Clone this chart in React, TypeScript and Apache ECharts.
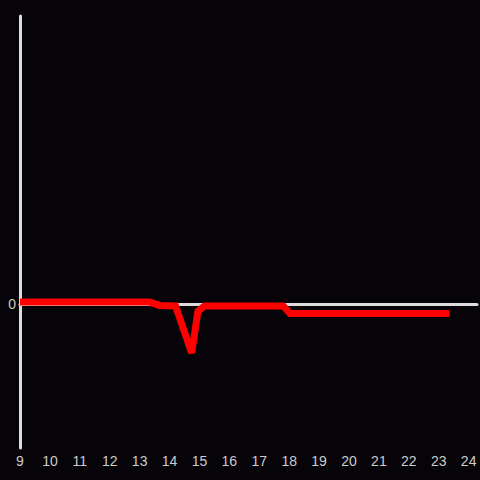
import React, { useEffect, useRef } from "react";
import * as echarts from "echarts";

const hours = [9, 13.33, 13.67, 14.2, 14.74, 14.95, 15.17, 17.8, 18.03, 23.36];
const values = [0.04, 0.04, -0.03, -0.04, -1.02, -0.15, -0.04, -0.04, -0.2, -0.2];
const xTicks = [9, 10, 11, 12, 13, 14, 15, 16, 17, 18, 19, 20, 21, 22, 23, 24];

export default function App() {
  const ref = useRef<HTMLDivElement>(null);
  useEffect(() => {
    if (!ref.current) return;
    const chart = echarts.init(ref.current, null, { renderer: "svg" });
    const data = hours.map((h, i) => [h, values[i]]);
    chart.setOption({
      animation: false,
      backgroundColor: "#060408",
      grid: { left: 20, right: 0, top: 16, bottom: 32, containLabel: false },
      xAxis: [
        {
          type: "value",
          min: 9,
          max: 24.28,
          interval: 1,
          axisLine: { show: false, onZero: false },
          axisTick: { show: false },
          splitLine: { show: false },
          axisLabel: {
            color: "#cccccc",
            fontSize: 14,
            fontFamily: "sans-serif",
            margin: 6,
            showMaxLabel: true,
            formatter: (v: number) => (xTicks.includes(Math.round(v * 1000) / 1000) ? String(v) : ""),
          },
        },
        {
          type: "value",
          min: 9,
          max: 24.28,
          position: "bottom",
          axisLine: { show: true, onZero: true, lineStyle: { color: "#dddddd", width: 3 } },
          axisTick: { show: false },
          axisLabel: { show: false },
          splitLine: { show: false },
        },
      ],
      yAxis: {
        type: "value",
        min: -3,
        max: 6,
        interval: 3,
        axisLine: { show: true, lineStyle: { color: "#dddddd", width: 3 } },
        axisTick: { show: false },
        splitLine: { show: false },
        axisLabel: {
          color: "#cccccc",
          fontSize: 14,
          fontFamily: "sans-serif",
          margin: 4,
          formatter: (v: number) => (v === 0 ? "0" : ""),
        },
      },
      series: [
        {
          type: "line",
          xAxisIndex: 0,
          data,
          showSymbol: false,
          symbol: "none",
          z: 5,
          lineStyle: { color: "#ff0000", width: 7, cap: "butt", join: "miter" },
        },
      ],
    });
    return () => chart.dispose();
  }, []);
  return <div ref={ref} style={{ width: 480, height: 480, position: "fixed", left: 0, top: 0 }} />;
}
